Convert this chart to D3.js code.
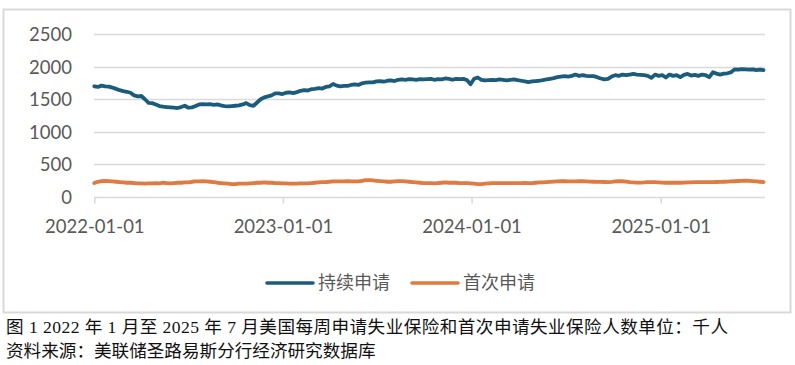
<!DOCTYPE html>
<html><head><meta charset="utf-8">
<script src="https://cdn.jsdelivr.net/npm/d3@7"></script>
<style>
html,body{margin:0;padding:0;background:#fff;}
svg{display:block;}
</style></head>
<body>
<svg id="chart" width="795" height="365"></svg>
<script>
// ---- data (thousands of persons, weekly from 2022-01-01) ----
const startDate = "2022-01-01";
const seriesNames = ["持续申请", "首次申请"];
const continued2022 = [1700,1690,1710,1700,1695,1680,1660,1640,1625,1615,1600,1560,1545,1550,1500,1445,1440,1420,1395,1385,1380,1375,1370,1365,1380,1400,1370,1375,1395,1420,1425,1420,1425,1415,1420,1405,1395,1390,1395,1400,1405,1420,1440,1410,1400,1450,1500,1530,1545,1560,1590,1590,1580];
const continued2023 = [1600,1605,1595,1610,1630,1640,1635,1655,1660,1670,1665,1690,1700,1735,1710,1700,1705,1705,1720,1730,1720,1745,1755,1760,1760,1775,1780,1770,1785,1790,1780,1800,1805,1800,1810,1805,1800,1810,1805,1810,1815,1800,1810,1805,1820,1815,1800,1815,1810,1815,1795,1730];
const continued2024 = [1815,1835,1800,1790,1795,1800,1795,1805,1800,1790,1800,1805,1795,1785,1775,1765,1775,1780,1785,1795,1805,1815,1825,1840,1850,1855,1850,1860,1880,1860,1870,1860,1855,1855,1840,1820,1805,1815,1850,1870,1860,1880,1870,1880,1890,1880,1875,1870,1860,1830,1880,1860];
const continued2025 = [1870,1835,1880,1860,1870,1840,1875,1890,1865,1875,1860,1880,1870,1840,1915,1895,1880,1895,1900,1915,1960,1955,1965,1960,1955,1960,1950,1955,1950];
const initial2022 = [210,230,240,245,240,235,230,225,220,215,215,210,205,205,200,205,205,210,205,215,210,205,210,215,215,220,220,230,235,235,240,235,230,225,215,210,205,200,195,195,200,200,200,205,210,215,215,220,215,215,210,210,205];
const initial2023 = [205,200,200,200,205,205,205,210,215,220,225,225,230,235,235,235,235,240,235,235,235,245,255,255,250,245,240,235,230,230,235,240,240,235,230,225,220,215,210,210,210,205,210,215,220,215,215,215,210,210,210,205];
const initial2024 = [200,195,195,200,205,210,210,210,210,210,210,210,210,210,212,210,210,215,220,222,225,228,232,235,238,238,235,235,235,238,238,235,232,230,228,228,226,225,228,235,240,238,232,225,220,218,218,220,225,225,225,222];
const initial2025 = [218,215,218,215,215,215,218,220,222,225,225,225,225,225,225,226,228,230,232,235,238,242,245,248,245,240,235,230,225];
const yTicks = [0,500,1000,1500,2000,2500];
const xTickLabels = ["2022-01-01","2023-01-01","2024-01-01","2025-01-01"];
const caption1 = "图 1 2022 年 1 月至 2025 年 7 月美国每周申请失业保险和首次申请失业保险人数单位：千人";
const caption2 = "资料来源：美联储圣路易斯分行经济研究数据库";

const continued = [].concat(continued2022, continued2023, continued2024, continued2025);
const initial = [].concat(initial2022, initial2023, initial2024, initial2025);
const parse = d3.utcParse("%Y-%m-%d");
const t0 = parse(startDate);
const dates = continued.map((_, i) => d3.utcDay.offset(t0, 7 * i));
const series = [
  {name: seriesNames[0], values: continued, color: "#1b5c7c"},
  {name: seriesNames[1], values: initial, color: "#e07a3f"}
];

const svg = d3.select("#chart");
// outer frame
svg.append("rect").attr("x", 3.5).attr("y", 9.5).attr("width", 787).attr("height", 303)
  .attr("fill", "#fff").attr("stroke", "#d9d9d9").attr("stroke-width", 2);

const x = d3.scaleUtc()
  .domain([parse("2022-01-01"), parse("2025-01-01")])
  .range([94.3, 660.7]);
const y = d3.scaleLinear().domain([0, 2500]).range([196.7, 34.3]);
const xEnd = 765;

const axisFont = "Lato, 'Open Sans', sans-serif";
// gridlines
svg.append("g").selectAll("line").data(yTicks.filter(d => d > 0)).join("line")
  .attr("x1", 94).attr("x2", xEnd)
  .attr("y1", d => Math.round(y(d)) + 0.5).attr("y2", d => Math.round(y(d)) + 0.5)
  .attr("stroke", "#d9d9d9").attr("stroke-width", 1.3);

// y axis labels
const yAxis = d3.axisLeft(y).tickValues(yTicks).tickSize(0).tickPadding(0).tickFormat(d3.format("d"));
const gy = svg.append("g").attr("transform", "translate(72,0)").call(yAxis);
gy.select(".domain").remove();
gy.selectAll("text").attr("font-family", axisFont).attr("font-size", 18.5)
  .attr("fill", "#595959").attr("dy", "0.36em");

// x axis
const xTicks = xTickLabels.map(parse);
const xAxis = d3.axisBottom(x).tickValues(xTicks).tickSize(6).tickPadding(16)
  .tickFormat(d3.utcFormat("%Y-%m-%d"));
const gx = svg.append("g").attr("transform", `translate(0,${Math.round(y(0)) + 0.5})`).call(xAxis);
gx.select(".domain").attr("d", `M94,0H${xEnd}`).attr("stroke", "#d9d9d9").attr("stroke-width", 1.5);
gx.selectAll(".tick line").attr("stroke", "#d9d9d9").attr("stroke-width", 1.5);
gx.selectAll("text").attr("font-family", axisFont).attr("font-size", 18.5).attr("fill", "#595959");

// lines
const line = d3.line().x((d, i) => x(dates[i])).y(d => y(d)).curve(d3.curveLinear);
svg.append("g").selectAll("path").data(series).join("path")
  .attr("d", s => line(s.values))
  .attr("fill", "none").attr("stroke", s => s.color)
  .attr("stroke-width", 3.8).attr("stroke-linejoin", "round").attr("stroke-linecap", "round");

// legend
const legendX = [267, 412];
const lg = svg.append("g").selectAll("g").data(series).join("g")
  .attr("transform", (s, i) => `translate(${legendX[i]},283)`);
lg.append("line").attr("x1", 0).attr("x2", 46).attr("y1", 0).attr("y2", 0)
  .attr("stroke", s => s.color).attr("stroke-width", 3.6).attr("stroke-linecap", "round");
lg.append("text").attr("x", 51).attr("y", 0).attr("dy", "0.36em")
  .attr("font-family", "'Noto Sans CJK SC', sans-serif").attr("font-size", 18)
  .attr("fill", "#595959").text(s => s.name);

// caption
const capFont = "'Liberation Serif', 'Noto Sans CJK SC', serif";
svg.append("text").attr("x", 6).attr("y", 333).attr("font-family", capFont)
  .attr("font-size", 17.6).attr("fill", "#111")
  .attr("textLength", 722).attr("lengthAdjust", "spacing").text(caption1);
svg.append("text").attr("x", 6).attr("y", 357).attr("font-family", capFont)
  .attr("font-size", 17.6).attr("fill", "#111").text(caption2);
</script>
</body></html>
